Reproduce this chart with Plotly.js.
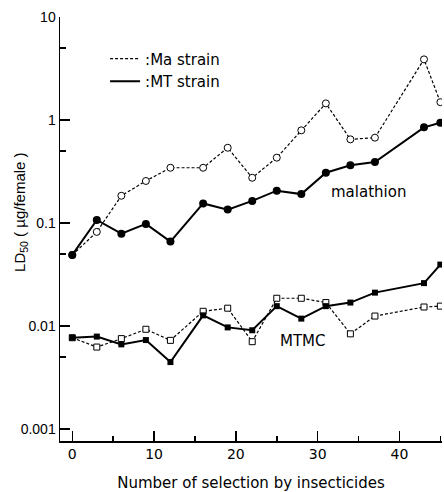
<!DOCTYPE html>
<html>
<head>
<meta charset="utf-8">
<script src="https://cdn.plot.ly/plotly-3.0.1.min.js"></script>
<style>html,body{margin:0;padding:0;background:#fff;}#chart{width:444px;height:492px;}</style>
</head>
<body>
<div id="chart"></div>
<script>
// Number of selection generations
const selections = [0, 3, 6, 9, 12, 16, 19, 22, 25, 28, 31, 34, 37, 43, 45];
// Malathion LD50 (µg/female)
const malathionMa = [0.049, 0.082, 0.184, 0.256, 0.344, 0.344, 0.538, 0.275, 0.431, 0.794, 1.45, 0.649, 0.674, 3.88, 1.49];
const malathionMT = [0.049, 0.107, 0.0787, 0.098, 0.066, 0.155, 0.135, 0.164, 0.206, 0.191, 0.308, 0.363, 0.391, 0.849, 0.94];
// MTMC LD50 (µg/female)
const mtmcMa = [0.0077, 0.00625, 0.00755, 0.0093, 0.00726, 0.0139, 0.0149, 0.00705, 0.0186, 0.0186, 0.0169, 0.0084, 0.0125, 0.0153, 0.0156];
const mtmcMT = [0.0077, 0.0079, 0.00664, 0.00731, 0.00447, 0.0127, 0.0097, 0.0091, 0.0156, 0.0118, 0.0156, 0.0169, 0.0211, 0.0261, 0.0395];
// Axis ticks
const xTicks = [0, 10, 20, 30, 40];
const xMinor = [5, 15, 25, 35, 45];
const yTicks = [0.001, 0.01, 0.1, 1, 10];
const yTickText = ['0.001', '0.01', '0.1', '1', '10'];
const yMinor = [0.005, 0.05, 0.5, 5];
const legendNames = [':Ma strain', ':MT strain'];

const FONT = 'Liberation Sans, Arial, sans-serif';
const DV = 'DejaVu Sans, sans-serif';
const dashed = {color: '#000', width: 1.2, dash: '3px,2px'};
const solid = {color: '#000', width: 2};

const traces = [
  {x: selections, y: malathionMa, mode: 'lines+markers', line: dashed, showlegend: false,
   marker: {symbol: 'circle', size: 7, color: '#fff', line: {color: '#000', width: 1}}},
  {x: selections, y: malathionMT, mode: 'lines+markers', line: solid, showlegend: false,
   marker: {symbol: 'circle', size: 8, color: '#000'}},
  {x: selections, y: mtmcMa, mode: 'lines+markers', line: dashed, showlegend: false,
   marker: {symbol: 'square', size: 6, color: '#fff', line: {color: '#000', width: 1}}},
  {x: selections, y: mtmcMT, mode: 'lines+markers', line: solid, showlegend: false,
   marker: {symbol: 'square', size: 6, color: '#000'}},
  {x: [null], y: [null], mode: 'lines', name: legendNames[0], line: dashed, showlegend: true},
  {x: [null], y: [null], mode: 'lines', name: legendNames[1], line: solid, showlegend: true}
];

const layout = {
  width: 444, height: 492,
  margin: {l: 60, r: 2, t: 17, b: 51},
  paper_bgcolor: '#fff', plot_bgcolor: '#fff',
  font: {family: FONT, color: '#000', size: 14},
  showlegend: true,
  legend: {x: 0.118, y: 0.94, xanchor: 'left', yanchor: 'top', bgcolor: 'rgba(0,0,0,0)',
           font: {family: DV, size: 15}, itemwidth: 30, tracegroupgap: 0},
  xaxis: {
    range: [-1.5, 45.2], showgrid: false, zeroline: false,
    showline: true, linecolor: '#000', linewidth: 1.5,
    tickvals: xTicks, ticks: 'inside', ticklen: 10, tickwidth: 1.5, tickcolor: '#000',
    minor: {tickvals: xMinor, ticks: 'inside', ticklen: 5, tickwidth: 1.5, tickcolor: '#000'},
    tickfont: {family: DV, size: 14},
    title: {text: 'Number of selection by insecticides', font: {family: DV, size: 15}, standoff: 24}
  },
  yaxis: {
    type: 'log', range: [-3.116, 1], showgrid: false, zeroline: false,
    showline: true, linecolor: '#000', linewidth: 1.5,
    tickvals: yTicks, ticktext: yTickText, ticks: 'inside', ticklen: 10, tickwidth: 1.5, tickcolor: '#000',
    minor: {tickvals: yMinor, ticks: 'inside', ticklen: 6, tickwidth: 1.5, tickcolor: '#000'},
    tickfont: {family: FONT, size: 14}
  },
  annotations: [
    {x: -0.105, y: 0.54, xref: 'paper', yref: 'paper', xanchor: 'center', yanchor: 'middle',
     text: 'LD<sub>50</sub> ( µg/female )',
     textangle: -90, showarrow: false, font: {family: FONT, size: 15}},
    {x: 36.2, y: Math.log10(0.2), xref: 'x', yref: 'y', text: 'malathion', showarrow: false,
     font: {family: DV, size: 15}},
    {x: 28.2, y: Math.log10(0.0072), xref: 'x', yref: 'y', text: 'MTMC', showarrow: false,
     font: {family: DV, size: 15}}
  ]
};

Plotly.newPlot('chart', traces, layout, {displayModeBar: false, staticPlot: true});
</script>
</body>
</html>
